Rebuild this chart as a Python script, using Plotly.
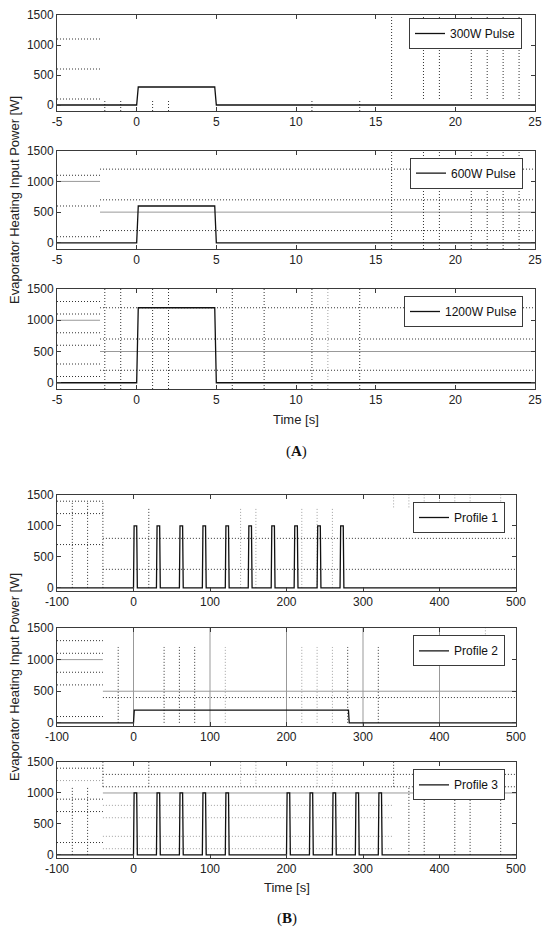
import plotly.graph_objects as go

# ── Data ────────────────────────────────────────────────────────────────────
# (A) single heating pulses
a_time = [-5, 0, 0.1, 4.9, 5, 25]
a_levels = [300, 600, 1200]
a_names = ["300W Pulse", "600W Pulse", "1200W Pulse"]

# (B) heating profiles
b1_starts = [0, 30, 60, 90, 120, 150, 180, 210, 240, 270]
b3_starts = [0, 30, 60, 90, 120, 200, 230, 260, 290, 320]
pulse_shape_t = [0, 0.8, 4.2, 5]          # offsets of one 1000 W pulse
pulse_shape_p = [0, 1000, 1000, 0]
b2_time = [-100, 0, 1, 281, 282, 500]
b2_power = [0, 0, 200, 200, 0, 0]
b_names = ["Profile 1", "Profile 2", "Profile 3"]

a_xticks = [-5, 0, 5, 10, 15, 20, 25]
b_xticks = [-100, 0, 100, 200, 300, 400, 500]
yticks = [0, 500, 1000, 1500]

# scan artefacts seen in the figure: (level, from, to)
art = {
    1: dict(hdot=[(1100, -5, -2.3), (600, -5, -2.3), (100, -5, -2.3)],
            vdot=[(x, 100, 1500) for x in [16, 18, 19, 21, 22, 23, 24]]
                 + [(x, -100, 100) for x in [-2, -1, 1, 2, 11, 14]]),
    2: dict(hdot=[(1100, -5, -2.3), (600, -5, -2.3), (100, -5, -2.3),
                  (1200, -2.3, 25), (700, -2.3, 25), (200, -2.3, 25)],
            hgray=[(1000, -5, -2.3), (500, -2.3, 25)],
            vdot=[(x, -100, 1500) for x in [16, 18, 19, 21, 22, 23, 24]]),
    3: dict(hdot=[(1300, -5, -2.3), (1100, -5, -2.3), (800, -5, -2.3),
                  (600, -5, -2.3), (300, -5, -2.3), (100, -5, -2.3),
                  (1200, -2.3, 25), (700, -2.3, 25), (200, -2.3, 25)],
            hgray=[(1000, -5, -2.3), (500, -2.3, 25)],
            vdot=[(x, -100, 1500) for x in [-2, -1, 1, 2, 6, 8, 11, 14]],
            vlight=[(12, -100, 1500)]),
    4: dict(hdot=[(1400, -100, -40), (1200, -100, -40), (700, -100, -40),
                  (800, -40, 500), (300, -40, 500)],
            vdot=[(-80, 0, 1400), (-60, 0, 1400), (-40, 0, 1400), (20, 0, 1300)],
            vlight=[(x, 0, 1300) for x in [140, 160, 220, 240, 260]]
                   + [(x, 1300, 1500) for x in [340, 360, 380, 400, 420, 440, 480]]),
    5: dict(hdot=[(1300, -100, -40), (1100, -100, -40), (800, -100, -40),
                  (600, -100, -40), (100, -100, -40), (400, -40, 500)],
            hgray=[(1000, -100, -40), (500, -40, 500)],
            vgray=[(x, -50, 1500) for x in [0, 100, 200, 300, 400]],
            vdot=[(x, 0, 1200) for x in [-20, 40, 60, 80, 280, 320]],
            vlight=[(x, 0, 1200) for x in [120, 220, 240, 260]] + [(460, 1400, 1500)]),
    6: dict(hdot=[(1400, -100, -40), (900, -100, -40), (700, -100, -40),
                  (200, -100, -40), (1300, -40, 500), (1100, -40, 500)],
            hlight=[(1200, -100, -40), (800, -40, 340), (600, -40, 340),
                    (300, -40, 340), (100, -40, 340)],
            hgray=[(1000, -40, 500)],
            vdot=[(-80, 0, 1100), (-60, 0, 1100), (-40, 1100, 1500), (20, 1100, 1500),
                  (340, 1100, 1500)]
                 + [(x, 0, 1100) for x in [360, 380, 420, 440, 480]],
            vlight=[(x, 1100, 1500) for x in [140, 160, 240, 260]]),
}


def pulse_train(starts, t0, t1):
    t, p = [t0], [0]
    for s in starts:
        t += [s + o for o in pulse_shape_t]
        p += pulse_shape_p
    return t + [t1], p + [0]


# ── Layout geometry ─────────────────────────────────────────────────────────
# the page body adds an 8px margin, so the figure is 8px smaller and all
# target pixel positions are shifted back by that amount
OFF = 8
W, H = 550 - OFF, 934 - OFF


def px(x):
    return (x - OFF) / W


def py(y):
    return 1 - (y - OFF) / H


panels = [
    # (x0px, x1px, top px, bottom px, xrange, ymin, xticks)
    (57, 535, 15, 111, [-5, 25], -100, a_xticks),
    (57, 535, 150.7, 249, [-5, 25], -100, a_xticks),
    (57, 535, 289, 389, [-5, 25], -100, a_xticks),
    (57, 516, 495, 591, [-100, 500], -50, b_xticks),
    (57, 516, 628, 726, [-100, 500], -50, b_xticks),
    (57, 516, 762, 858, [-100, 500], -50, b_xticks),
]
legend_pos = [(522, 18), (523, 157.7), (523, 296), (505, 502), (505, 635.3), (505, 769.3)]

FONT = "Liberation Sans, Arial, sans-serif"
AX = "#3a3a3a"
DOTS = "1px,2px"

series = [(a_time, [0, 0, lv, lv, 0, 0]) for lv in a_levels]
series.append(pulse_train(b1_starts, -100, 500))
series.append((b2_time, b2_power))
series.append(pulse_train(b3_starts, -100, 500))
names = a_names + b_names

styles = {
    "hdot": dict(color="#333333", width=1, dash=DOTS),
    "vdot": dict(color="#333333", width=1, dash=DOTS),
    "hlight": dict(color="#a0a0a0", width=1, dash=DOTS),
    "vlight": dict(color="#a0a0a0", width=1, dash=DOTS),
    "hgray": dict(color="#999999", width=1),
    "vgray": dict(color="#999999", width=1),
}

fig = go.Figure()
layout = {}
for i, (x0, x1, top, bot, xr, ymin, xt) in enumerate(panels, start=1):
    sfx = "" if i == 1 else str(i)
    xa, ya = "x" + sfx, "y" + sfx

    # artefact lines first so the data line sits on top
    for kind, segs in art[i].items():
        xs, ys = [], []
        for v, a, b in segs:
            if kind.startswith("h"):
                xs += [a, b, None]
                ys += [v, v, None]
            else:
                xs += [v, v, None]
                ys += [a, b, None]
        fig.add_trace(go.Scatter(x=xs, y=ys, mode="lines", line=styles[kind],
                                 xaxis=xa, yaxis=ya, showlegend=False, hoverinfo="skip"))

    t, p = series[i - 1]
    fig.add_trace(go.Scatter(
        x=t, y=p, mode="lines", name=names[i - 1],
        line=dict(color="#111111", width=1.3),
        xaxis=xa, yaxis=ya, legend="legend" + sfx,
    ))

    common = dict(showline=True, linecolor=AX, linewidth=1, mirror="ticks",
                  ticks="inside", ticklen=4, tickcolor=AX, showgrid=False,
                  zeroline=False, automargin=False, ticklabeloverflow="allow",
                  tickfont=dict(family=FONT, size=12, color="#222"))
    layout["xaxis" + sfx] = dict(domain=[px(x0), px(x1)], range=xr, tickvals=xt,
                                 ticktext=[str(v) for v in xt], anchor=ya, **common)
    layout["yaxis" + sfx] = dict(domain=[py(bot), py(top)], range=[ymin, 1500],
                                 tickvals=yticks, ticktext=[str(v) for v in yticks],
                                 anchor=xa, **common)
    lx, ly = legend_pos[i - 1]
    layout["legend" + sfx] = dict(x=px(lx), y=py(ly), xanchor="right", yanchor="top",
                                  bgcolor="white", bordercolor=AX, borderwidth=1,
                                  font=dict(family=FONT, size=12, color="#111"),
                                  tracegroupgap=0, itemwidth=30)

ylabel = "Evaporator Heating Input Power [W]"
annotations = [
    dict(x=px(14), y=py(200), text=ylabel, textangle=-90),
    dict(x=px(14), y=py(677), text=ylabel, textangle=-90),
    dict(x=px(296), y=py(420), text="Time [s]"),
    dict(x=px(287), y=py(887), text="Time [s]"),
]
for a in annotations:
    a.update(xref="paper", yref="paper", showarrow=False, xanchor="center",
             yanchor="middle", font=dict(family=FONT, size=13, color="#222"))
for x, y, lab in [(296, 452, "A"), (287, 918, "B")]:
    annotations.append(dict(
        x=px(x), y=py(y), text=f"(<b>{lab}</b>)", xref="paper", yref="paper",
        showarrow=False, xanchor="center", yanchor="middle",
        font=dict(family="Liberation Serif, Times New Roman, serif", size=15, color="#111"),
    ))

fig.update_layout(
    width=W, height=H,
    margin=dict(l=0, r=0, t=0, b=0),
    paper_bgcolor="white", plot_bgcolor="white",
    annotations=annotations,
    **layout,
)
fig.write_html("out.html")
